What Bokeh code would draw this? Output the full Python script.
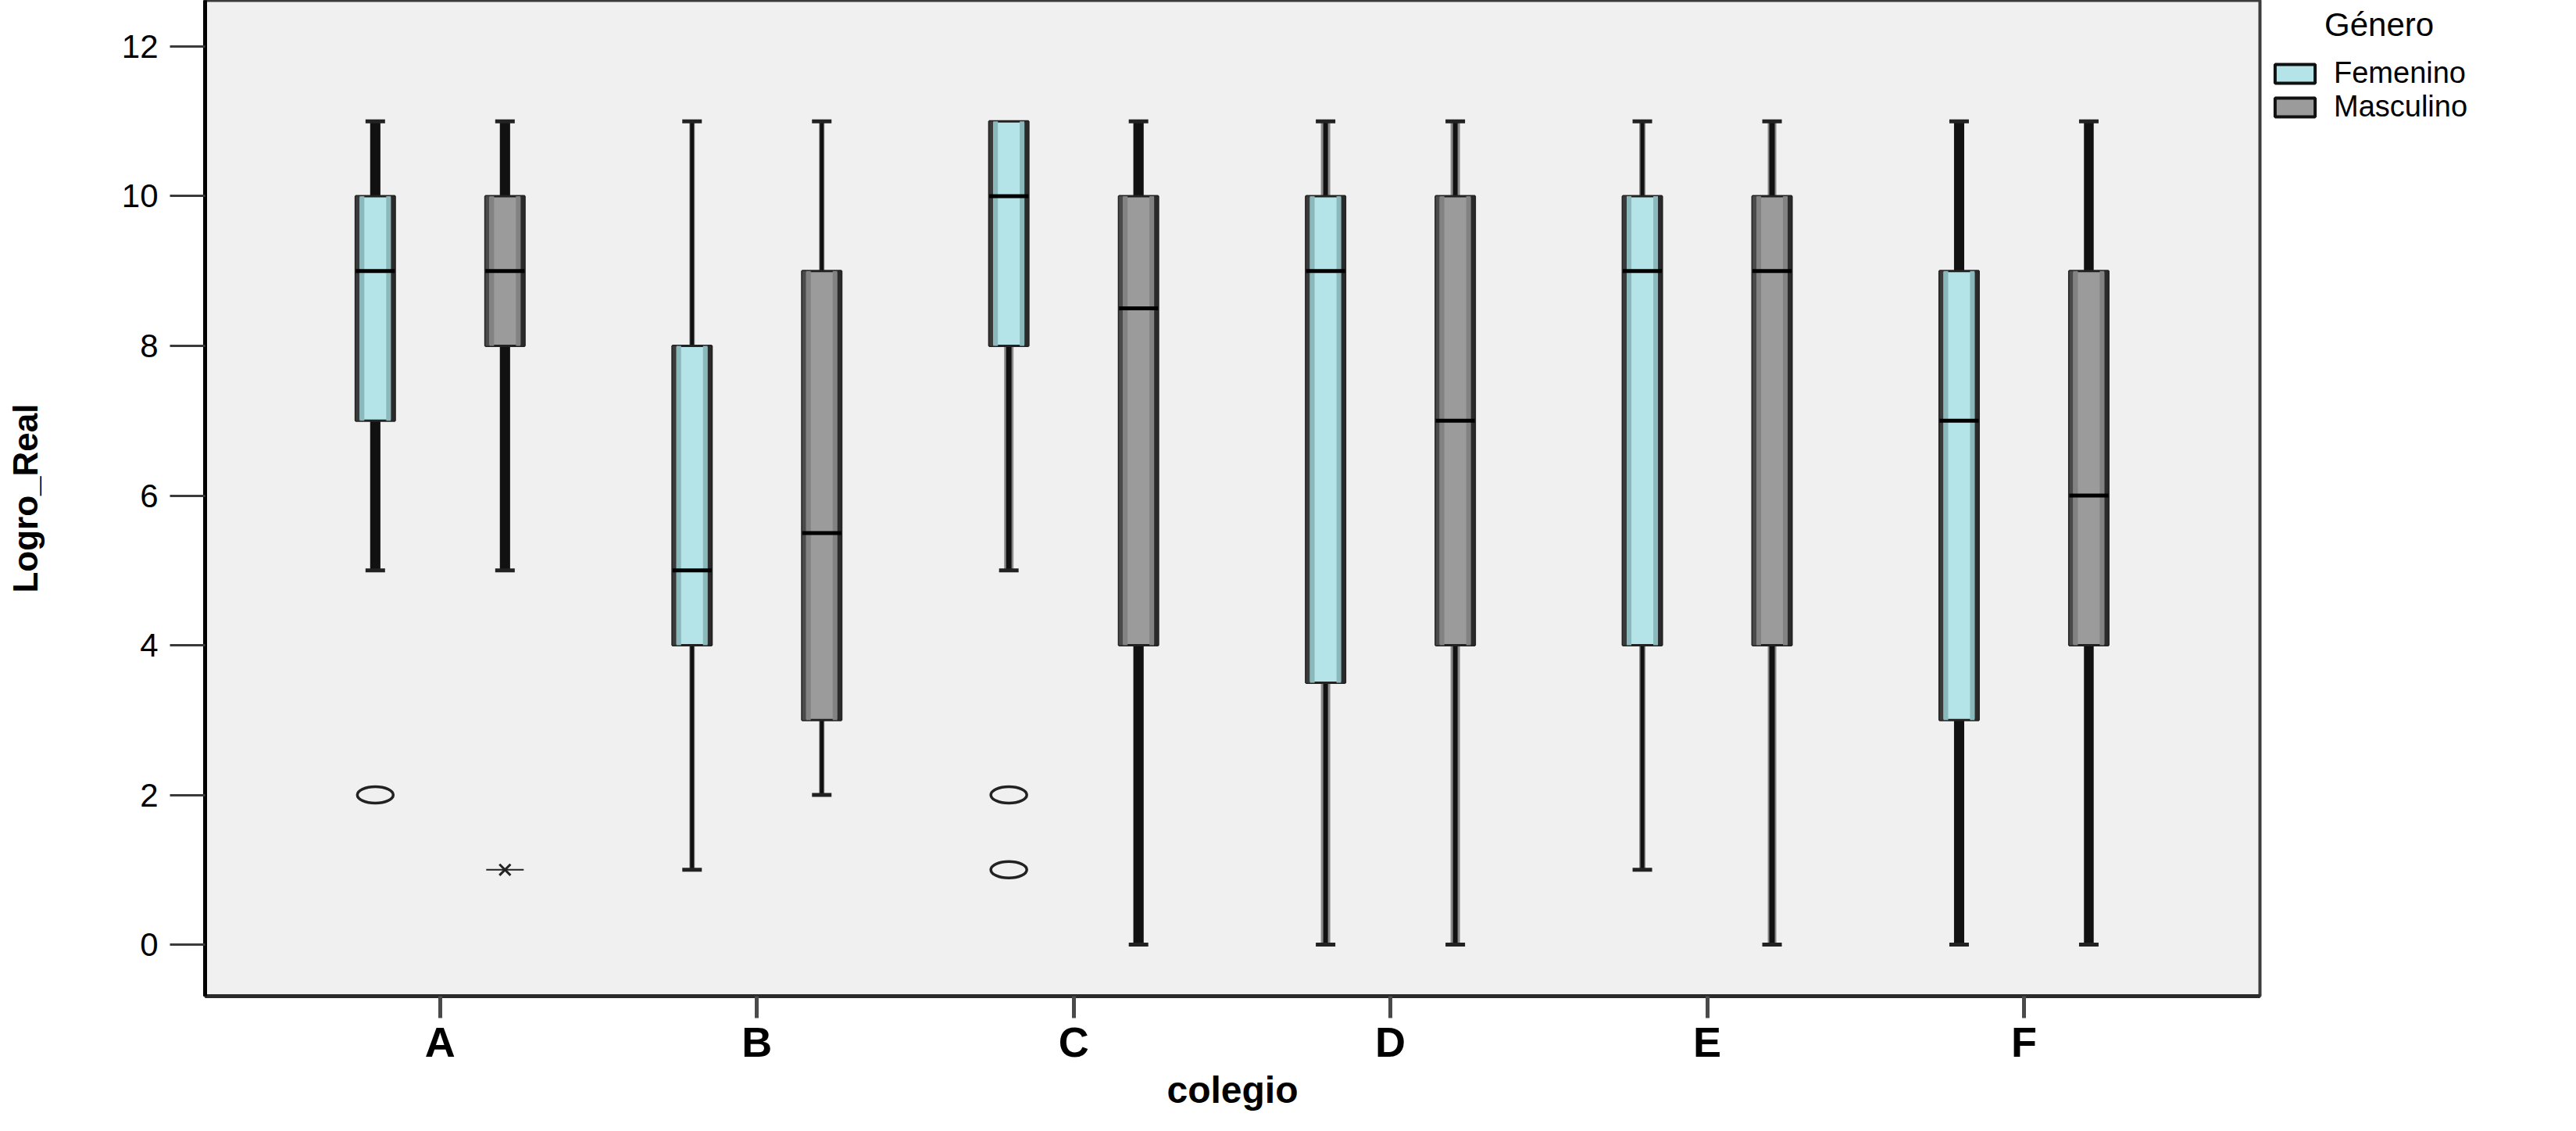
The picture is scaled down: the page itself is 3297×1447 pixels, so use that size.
from bokeh.plotting import figure
from bokeh.layouts import row
from bokeh.models import Range1d, FixedTicker, Legend, LegendItem, ColumnDataSource
from bokeh.embed import file_html
from bokeh.resources import INLINE

# ---------------- data ----------------
colegios = ["A", "B", "C", "D", "E", "F"]
generos = ["Femenino", "Masculino"]
legend_title = "Género"

fem_min = [5, 1, 5, 0, 1, 0]
fem_q1 = [7, 4, 8, 3.5, 4, 3]
fem_med = [9, 5, 10, 9, 9, 7]
fem_q3 = [10, 8, 11, 10, 10, 9]
fem_max = [11, 11, 11, 11, 11, 11]

masc_min = [5, 2, 0, 0, 0, 0]
masc_q1 = [8, 3, 4, 4, 4, 4]
masc_med = [9, 5.5, 8.5, 7, 9, 6]
masc_q3 = [10, 9, 10, 10, 10, 9]
masc_max = [11, 11, 11, 11, 11, 11]

# outliers: circle = atípico, star = extremo
out_colegio = ["A", "A", "C", "C"]
out_genero = ["Femenino", "Masculino", "Femenino", "Femenino"]
out_valor = [2, 1, 2, 1]
out_tipo = ["circulo", "estrella", "circulo", "circulo"]

y_ticks = [0, 2, 4, 6, 8, 10, 12]

# ---------------- style ----------------
FONT = "Liberation Sans"
FEM_FILL, FEM_SHADE, FEM_DARK = "#b4e4e7", "#8bb8bb", "#3a3a3a"
MASC_FILL, MASC_SHADE, MASC_DARK = "#9b9b9b", "#828282", "#4a4a4a"
core_f = [13, 5, 7, 6, 5, 13]
core_m = [13, 5, 13, 6, 7, 12]
band_f = [13, 7, 12, 12, 8, 13]
band_m = [13, 7, 13, 12, 11, 13]

X0, X1 = 0.258, 6.745
FRAME_W = 2630
PX = (X1 - X0) / FRAME_W          # data units per pixel
DODGE = 83 * PX
HALF_BOX = 25 * PX
HALF_CAP = 12.5 * PX

p = figure(width=2900, height=1431, output_backend="svg", toolbar_location=None,
           x_range=Range1d(X0, X1), y_range=Range1d(-0.689, 12.616),
           min_border_left=262, min_border_right=8, min_border_top=0,
           min_border_bottom=157)
p.background_fill_color = "#f0f0f0"
p.border_fill_color = "white"
p.grid.visible = False
p.outline_line_color = "#3c3c3c"
p.outline_line_width = 4


def draw(offset, mins, q1s, meds, q3s, maxs, fill, shade, dark, core, band):
    xs = [i + 1 + offset for i in range(len(colegios))]
    up = [(x, a, b, c, w) for x, a, b, c, w in zip(xs, q3s, maxs, core, band) if b > a]
    lo = [(x, a, b, c, w) for x, a, b, c, w in zip(xs, q1s, mins, core, band) if b < a]
    for seg in (up, lo):
        src = ColumnDataSource(dict(x=[s[0] for s in seg], y0=[s[1] for s in seg],
                                    y1=[s[2] for s in seg], w=[s[3] for s in seg],
                                    b=[s[4] for s in seg],
                                    cl=[s[0] - HALF_CAP for s in seg],
                                    cr=[s[0] + HALF_CAP for s in seg]))
        p.segment(x0="x", y0="y0", x1="x", y1="y1", line_width="b", line_color="#8a8a8a", source=src)
        p.segment(x0="x", y0="y0", x1="x", y1="y1", line_width="w", line_color="#111111", source=src)
        p.segment(x0="cl", y0="y1", x1="cr", y1="y1", line_width=5, line_color="#222222", source=src)
    p.quad(left=[x - HALF_BOX for x in xs], right=[x + HALF_BOX for x in xs],
           bottom=q1s, top=q3s, fill_color=fill, line_color="#222222", line_width=3)
    p.quad(left=[x - HALF_BOX for x in xs], right=[x - HALF_BOX + 5 * PX for x in xs],
           bottom=q1s, top=q3s, fill_color=dark, line_color=None)
    p.quad(left=[x - HALF_BOX + 5 * PX for x in xs], right=[x - HALF_BOX + 11 * PX for x in xs],
           bottom=q1s, top=q3s, fill_color=shade, line_color=None)
    p.quad(left=[x + HALF_BOX - 11 * PX for x in xs], right=[x + HALF_BOX - 5 * PX for x in xs],
           bottom=q1s, top=q3s, fill_color=shade, line_color=None)
    p.quad(left=[x + HALF_BOX - 5 * PX for x in xs], right=[x + HALF_BOX for x in xs],
           bottom=q1s, top=q3s, fill_color="#2a2a2a", line_color=None)
    p.segment(x0=[x - HALF_BOX for x in xs], y0=meds, x1=[x + HALF_BOX for x in xs], y1=meds,
              line_width=5, line_color="#000000")


draw(-DODGE, fem_min, fem_q1, fem_med, fem_q3, fem_max, FEM_FILL, FEM_SHADE, FEM_DARK, core_f, band_f)
draw(+DODGE, masc_min, masc_q1, masc_med, masc_q3, masc_max, MASC_FILL, MASC_SHADE, MASC_DARK, core_m, band_m)

# outliers
ox, oy, sx_, sy_ = [], [], [], []
for c, g, v, t in zip(out_colegio, out_genero, out_valor, out_tipo):
    x = colegios.index(c) + 1 + (-DODGE if g == generos[0] else DODGE)
    if t == "circulo":
        ox.append(x); oy.append(v)
    else:
        sx_.append(x); sy_.append(v)
p.ellipse(x=ox, y=oy, width=46, height=21, width_units="screen", height_units="screen",
          fill_color=None, line_color="#222222", line_width=3.5)
p.scatter(x=sx_, y=sy_, marker="dash", size=48, line_color="#222222", line_width=2)
p.scatter(x=sx_, y=sy_, marker="x", size=20, line_color="#222222", line_width=3)

# axes
p.xaxis.ticker = FixedTicker(ticks=[i + 1 for i in range(len(colegios))])
p.xaxis.major_label_overrides = {i + 1: c for i, c in enumerate(colegios)}
p.xaxis.major_tick_out = 28
p.xaxis.major_tick_in = 0
p.xaxis.minor_tick_line_color = None
p.xaxis.major_tick_line_width = 5
p.xaxis.major_tick_line_color = "#4a4a4a"
p.xaxis.axis_line_width = 5
p.xaxis.axis_line_color = "#2a2a2a"
p.xaxis.major_label_text_font = FONT
p.xaxis.major_label_text_font_size = "54px"
p.xaxis.major_label_text_font_style = "bold"
p.xaxis.major_label_text_color = "#000000"
p.xaxis.major_label_standoff = 0
p.xaxis.axis_label = "colegio"
p.xaxis.axis_label_text_font = FONT
p.xaxis.axis_label_text_font_size = "48px"
p.xaxis.axis_label_text_font_style = "bold"
p.xaxis.axis_label_text_color = "#000000"
p.xaxis.axis_label_standoff = 2

p.yaxis.ticker = FixedTicker(ticks=y_ticks)
p.yaxis.major_tick_out = 45
p.yaxis.major_tick_in = 0
p.yaxis.minor_tick_line_color = None
p.yaxis.major_tick_line_width = 3
p.yaxis.major_tick_line_color = "#3a3a3a"
p.yaxis.axis_line_width = 5
p.yaxis.axis_line_color = "#000000"
p.yaxis.major_label_text_font = FONT
p.yaxis.major_label_text_font_size = "42px"
p.yaxis.major_label_text_color = "#000000"
p.yaxis.major_label_standoff = 15
p.yaxis.axis_label = "Logro_Real"
p.yaxis.axis_label_text_font = FONT
p.yaxis.axis_label_text_font_size = "44px"
p.yaxis.axis_label_text_font_style = "bold"
p.yaxis.axis_label_text_color = "#000000"
p.yaxis.axis_label_standoff = 96

# ---------------- legend figure (to the right) ----------------
q = figure(width=381, height=1431, output_backend="svg", toolbar_location=None,
           x_range=Range1d(0, 1), y_range=Range1d(0, 1),
           x_axis_location=None, y_axis_location=None,
           min_border_left=0, min_border_right=0, min_border_top=0, min_border_bottom=0)
q.grid.visible = False
q.outline_line_color = None
q.background_fill_color = "white"
q.border_fill_color = "white"
# legend proxies: placed outside the visible range, only their legend swatches show
lf = q.quad(left=[2], right=[3], bottom=[2], top=[3], fill_color=FEM_FILL, line_color="#111111", line_width=4)
lm = q.quad(left=[2], right=[3], bottom=[2], top=[3], fill_color=MASC_FILL, line_color="#111111", line_width=4)

legend = Legend(items=[LegendItem(label=generos[0], renderers=[lf]),
                       LegendItem(label=generos[1], renderers=[lm])],
                location=(5, 1116), orientation="vertical",
                title="\u00a0" * 6 + legend_title)
legend.glyph_width = 64
legend.glyph_height = 30
legend.label_height = 39
legend.label_standoff = 18
legend.spacing = 0
legend.padding = 0
legend.margin = 0
legend.border_line_color = None
legend.background_fill_alpha = 0
legend.label_text_font = FONT
legend.label_text_font_size = "38px"
legend.label_text_color = "#000000"
legend.title_text_font = FONT
legend.title_text_font_size = "42px"
legend.title_text_font_style = "normal"
legend.title_text_color = "#000000"
legend.title_standoff = 16
q.add_layout(legend)

layout = row(p, q)
open("out.html", "w").write(file_html(layout, INLINE))
